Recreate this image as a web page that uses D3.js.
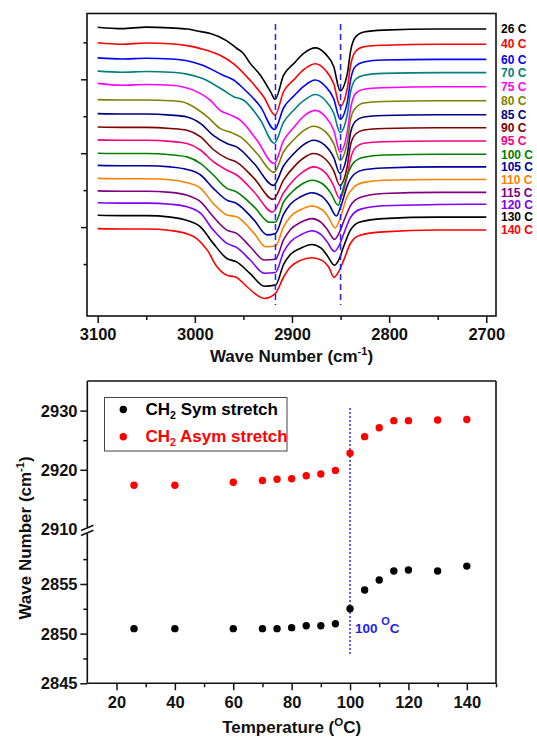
<!DOCTYPE html>
<html>
<head>
<meta charset="utf-8">
<script src="https://cdn.jsdelivr.net/npm/d3@7"></script>
<style>
  html, body { margin: 0; padding: 0; background: #fff; }
  svg { display: block; font-family: "Liberation Sans", Arial, Helvetica, sans-serif; font-weight: bold; }
</style>
</head>
<body>
<svg id="chart" width="537" height="737"></svg>
<script>
// ---------- Data ----------
const temperatures = [26, 40, 60, 70, 75, 80, 85, 90, 95, 100, 105, 110, 115, 120, 130, 140];
const spectrumLabels = ["26 C", "40 C", "60 C", "70 C", "75 C", "80 C", "85 C", "90 C", "95 C",
                        "100 C", "105 C", "110 C", "115 C", "120 C", "130 C", "140 C"];
const spectrumColors = ["#000000", "#ff0000", "#0000ff", "#008080", "#ff00ff", "#808000", "#000080", "#800000",
                        "#ff0080", "#008000", "#0000a0", "#ff8000", "#800080", "#8000ff", "#000000", "#ff0000"];

// vertical offset of each stacked spectrum (a.u.)
const spectrumOffsets = [74.1, 69.9, 65.8, 62.2, 58.9, 54.5, 50.7, 47.1, 43.6, 40.0, 36.7, 33.2, 29.8, 26.6, 23.2, 19.6];

// [wavenumber (cm-1), transmittance relative to offset (a.u.)]
const spectrum26 = [[3100,0],[3075,-0.4],[3050,0],[3025,-0.2],[3008,-0.5],[2994,-1.2],[2984,-1.7],[2967,-3.7],[2957,-5.7],[2950,-7.1],[2943,-9.8],[2932.5,-13.0],[2922,-17.5],[2917.4,-19.5],[2908.6,-13.0],[2898,-9.8],[2888,-7.1],[2876,-5.6],[2866,-7.1],[2857,-10.7],[2850.5,-17.2],[2843,-12.5],[2839.5,-6.2],[2834.4,-2.6],[2826,-1.3],[2806,-0.8],[2750,-0.5],[2700,-0.5]];
const spectrum40 = [[3100,0],[3075,-0.4],[3050,-0.1],[3025,-0.3],[3008,-0.8],[2994,-1.6],[2974,-3.4],[2960,-5.7],[2943,-10.2],[2929,-14.7],[2917.4,-19.6],[2908.6,-13.2],[2898,-10.0],[2888,-7.3],[2876,-5.7],[2866,-7.3],[2857,-11.1],[2850.5,-17.2],[2843,-12.2],[2839.5,-5.9],[2834.4,-2.3],[2826,-1.1],[2806,-0.7],[2750,-0.4],[2700,-0.4]];
const spectrum60 = [[3100,0],[3075,-0.3],[3050,-0.1],[3025,-0.3],[3008,-0.8],[2992,-2.0],[2971,-4.7],[2960,-6.0],[2950,-8.3],[2932.5,-13.2],[2917.9,-19.4],[2908.6,-13.5],[2898,-10.3],[2888,-7.7],[2876,-6.0],[2866,-7.6],[2857,-11.1],[2850.5,-16.6],[2843,-11.9],[2839.5,-5.7],[2834.4,-2.2],[2826,-1.1],[2806,-0.6],[2750,-0.4],[2700,-0.4]];
const spectrum70 = [[3100,0],[3075,-0.3],[3050,-0.1],[3025,-0.3],[3008,-0.8],[2992,-2.0],[2971,-5.1],[2960,-6.9],[2950,-7.8],[2932.5,-13.2],[2918.2,-19.5],[2908.6,-13.8],[2898,-10.5],[2888,-8.0],[2876,-6.3],[2866,-7.8],[2857,-11.4],[2850.5,-16.6],[2843,-11.6],[2839.5,-5.4],[2834.4,-2.2],[2826,-1.1],[2806,-0.6],[2750,-0.4],[2700,-0.4]];
const spectrum75 = [[3100,0],[3075,-0.5],[3050,-0.3],[3025,-0.5],[3001,-1.9],[2984,-4.6],[2974,-7.3],[2963,-8.6],[2953,-10.0],[2936,-15.4],[2918.4,-21.7],[2908.6,-15.4],[2898,-11.9],[2888,-8.9],[2876,-7.3],[2866,-8.9],[2857,-12.7],[2850.5,-18.6],[2843,-13.0],[2839.5,-6.5],[2834.4,-2.7],[2826,-1.6],[2806,-1.2],[2750,-0.9],[2700,-0.9]];
const spectrum80 = [[3100,0],[3075,-0.1],[3050,-0.1],[3025,-0.3],[3013,-0.6],[3001,-2.0],[2987,-4.7],[2974,-7.8],[2961.7,-9.0],[2953,-10.1],[2936,-14.6],[2918.5,-19.7],[2908.6,-14.1],[2898,-10.8],[2888,-8.4],[2878,-7.2],[2866,-8.6],[2857,-11.9],[2850.6,-16.4],[2843,-11.4],[2839.5,-5.1],[2834.4,-2.2],[2826,-0.9],[2806,-0.5],[2750,-0.3],[2700,-0.3]];
const spectrum85 = [[3100,0],[3075,-0.1],[3050,-0.1],[3025,-0.4],[3008,-0.9],[2994,-2.7],[2981,-5.9],[2967,-8.1],[2957,-9.0],[2939,-13.5],[2919.0,-19.4],[2908.6,-14.1],[2898,-10.8],[2888,-8.4],[2878,-7.2],[2866,-8.6],[2857,-11.9],[2850.8,-16.1],[2843,-10.8],[2839.5,-4.9],[2834.4,-2.0],[2826,-0.9],[2806,-0.5],[2750,-0.3],[2700,-0.3]];
const spectrum90 = [[3100,0],[3075,-0.1],[3050,-0.1],[3025,-0.4],[3008,-0.9],[2994,-2.7],[2981,-6.1],[2967,-8.5],[2957,-9.5],[2939,-13.9],[2919.3,-19.6],[2908.6,-14.3],[2898,-10.8],[2888,-8.4],[2878,-7.2],[2866,-8.6],[2857,-11.9],[2850.8,-15.8],[2843,-10.5],[2839.5,-4.6],[2834.4,-1.9],[2826,-0.8],[2806,-0.4],[2750,-0.2],[2700,-0.2]];
const spectrum95 = [[3100,0],[3075,-0.1],[3050,-0.1],[3025,-0.4],[3008,-1.0],[2994,-2.8],[2981,-5.9],[2967,-8.2],[2957,-9.5],[2939,-14.1],[2919.9,-19.5],[2908.6,-14.3],[2898,-10.8],[2888,-8.5],[2878,-7.3],[2866,-8.8],[2858,-11.9],[2851.0,-15.8],[2844,-10.8],[2839.5,-4.9],[2834.4,-2.0],[2826,-0.9],[2806,-0.5],[2750,-0.3],[2700,-0.3]];
const spectrum100 = [[3100,0],[3075,-0.1],[3050,-0.1],[3025,-0.4],[3008,-1.0],[2994,-2.8],[2981,-5.9],[2967,-9.5],[2957,-10.5],[2939,-14.5],[2922.8,-18.7],[2917,-18.6],[2908.6,-13.2],[2900,-10.5],[2890,-8.4],[2879.4,-7.3],[2868,-8.4],[2860,-10.8],[2852.5,-14.1],[2848,-10.3],[2843,-5.9],[2836,-2.4],[2826,-1.1],[2806,-0.5],[2750,-0.3],[2700,-0.3]];
const spectrum105 = [[3100,0],[3075,-0.1],[3050,-0.1],[3025,-0.4],[3008,-1.1],[2994,-2.6],[2981,-6.2],[2967,-9.4],[2957,-10.3],[2939,-14.8],[2925.6,-18.8],[2917,-18.4],[2908.6,-13.2],[2901.7,-10.5],[2891,-8.5],[2879.4,-7.4],[2869,-8.4],[2862,-10.5],[2854.4,-13.7],[2849,-10.5],[2843,-5.4],[2836,-2.4],[2826,-1.2],[2806,-0.7],[2750,-0.4],[2700,-0.4]];
const spectrum110 = [[3100,0],[3075,-0.1],[3050,-0.1],[3025,-0.4],[3008,-1.2],[2994,-2.7],[2981,-6.8],[2967,-9.9],[2957,-10.4],[2939,-14.9],[2927.1,-18.5],[2917,-18.3],[2908.6,-13.1],[2901.7,-10.4],[2891,-8.5],[2879.4,-7.5],[2869,-8.5],[2863,-10.3],[2855.4,-13.4],[2850,-10.5],[2844,-5.4],[2836,-2.3],[2826,-1.1],[2806,-0.5],[2750,-0.3],[2700,-0.3]];
const spectrum115 = [[3100,0],[3075,-0.1],[3050,-0.1],[3025,-0.4],[3008,-1.2],[2994,-3.0],[2981,-7.0],[2967,-10.6],[2957,-11.5],[2943,-15.1],[2928.3,-18.7],[2917,-18.5],[2908.6,-13.2],[2901.7,-10.5],[2891,-8.5],[2879.4,-7.5],[2870,-8.5],[2864,-10.3],[2856.3,-13.1],[2851,-11.1],[2847,-8.4],[2840,-4.1],[2830,-1.8],[2806,-0.7],[2750,-0.4],[2700,-0.4]];
const spectrum120 = [[3100,0],[3075,-0.1],[3050,-0.1],[3025,-0.4],[3008,-1.1],[2994,-2.9],[2981,-7.4],[2967,-11.0],[2957,-12.1],[2943,-15.5],[2928.3,-19.1],[2917,-18.9],[2908.6,-13.3],[2901.7,-10.6],[2891,-8.7],[2879.4,-7.6],[2870,-8.6],[2864,-10.5],[2856.4,-13.2],[2851,-11.3],[2847,-8.6],[2840,-4.1],[2830,-1.8],[2806,-0.8],[2750,-0.5],[2700,-0.4]];
const spectrum130 = [[3100,0],[3075,-0.1],[3050,-0.1],[3025,-0.5],[3008,-1.4],[2994,-3.2],[2981,-7.6],[2967,-11.7],[2957,-12.6],[2943,-15.8],[2928.4,-19.2],[2917,-18.9],[2908.6,-13.3],[2901.7,-10.6],[2891,-8.9],[2879.4,-7.9],[2870,-8.9],[2864,-10.8],[2856.3,-13.5],[2851,-11.6],[2847,-8.6],[2840,-4.1],[2830,-1.8],[2806,-0.9],[2750,-0.5],[2700,-0.5]];
const spectrum140 = [[3100,0],[3075,-0.1],[3050,-0.1],[3025,-0.5],[3008,-1.4],[2998,-2.7],[2987,-5.9],[2977,-10.4],[2967,-12.6],[2958,-13.1],[2946,-15.8],[2936,-18.0],[2928.5,-18.9],[2917.2,-17.6],[2908.6,-13.1],[2901.7,-10.4],[2891.4,-8.6],[2879.4,-7.9],[2869,-8.6],[2862.2,-10.4],[2856.8,-13.2],[2852,-11.7],[2846.8,-8.6],[2840,-4.1],[2830,-1.8],[2806,-0.9],[2750,-0.4],[2700,-0.4]];
const spectra = [spectrum26, spectrum40, spectrum60, spectrum70, spectrum75, spectrum80, spectrum85, spectrum90,
                 spectrum95, spectrum100, spectrum105, spectrum110, spectrum115, spectrum120, spectrum130, spectrum140];

// reference band positions marked by dashed lines (cm-1)
const bandMarkers = [2917, 2850];

const waveTicks = [3100, 3000, 2900, 2800, 2700];
const waveMinorTicks = [3050, 2950, 2850, 2750];

// peak positions vs temperature
const symStretch  = [2850.5, 2850.5, 2850.5, 2850.5, 2850.5, 2850.6, 2850.8, 2850.8, 2851.0, 2852.5, 2854.4, 2855.4, 2856.3, 2856.4, 2856.3, 2856.8];
const asymStretch = [2917.4, 2917.4, 2917.9, 2918.2, 2918.4, 2918.5, 2919.0, 2919.3, 2919.9, 2922.8, 2925.6, 2927.1, 2928.3, 2928.3, 2928.4, 2928.5];
const transitionTemp = 100;

const tempTicks = [20, 40, 60, 80, 100, 120, 140];
const tempMinorTicks = [30, 50, 70, 90, 110, 130, 150];
const upperTicks = [2920, 2930];
const upperMinorTicks = [2915, 2925];
const lowerTicks = [2845, 2850, 2855];
const lowerMinorTicks = [2847.5, 2852.5, 2857.5];
const yTickLabels = [2930, 2920, 2910, 2855, 2850, 2845];

// ---------- Drawing ----------
const svg = d3.select("#chart");
const tickFont = "16.5px";
const titleFont = "17px";

// ===== Top panel: stacked spectra =====
const P1 = { left: 87, right: 496, top: 13.5, bottom: 316 };
const x1 = d3.scaleLinear().domain([3111, 2690]).range([P1.left, P1.right]);
const y1 = d3.scaleLinear().domain([-4.05, 77.8]).range([P1.bottom, P1.top]);

const g1 = svg.append("g");

const line = (offset) => d3.line()
  .x(d => x1(d[0]))
  .y(d => y1(offset + d[1]))
  .curve(d3.curveMonotoneX);

g1.selectAll("path.spec").data(spectra).join("path")
  .attr("class", "spec")
  .attr("fill", "none")
  .attr("stroke", (d, i) => spectrumColors[i])
  .attr("stroke-width", 1.6)
  .attr("d", (d, i) => line(spectrumOffsets[i])(d));

// dashed band reference lines over the traces
g1.selectAll("line.marker").data(bandMarkers).join("line")
  .attr("class", "marker")
  .attr("x1", d => x1(d)).attr("x2", d => x1(d))
  .attr("y1", 24).attr("y2", 305)
  .attr("stroke", "#1f1fff").attr("stroke-width", 1.5)
  .attr("stroke-dasharray", "6,4");

// temperature labels at the right end of each trace
g1.selectAll("text.lab").data(spectra).join("text")
  .attr("class", "lab")
  .attr("x", 501)
  .attr("y", (d, i) => y1(spectrumOffsets[i] + d[d.length - 1][1]))
  .attr("dy", "0.36em")
  .attr("font-size", "12px")
  .attr("fill", (d, i) => spectrumColors[i])
  .text((d, i) => spectrumLabels[i]);

// frame
g1.append("rect")
  .attr("x", P1.left).attr("y", P1.top)
  .attr("width", P1.right - P1.left).attr("height", P1.bottom - P1.top)
  .attr("fill", "none").attr("stroke", "#111").attr("stroke-width", 1.6);

// x axis
const xAx1 = g1.append("g").attr("transform", `translate(0,${P1.bottom})`)
  .call(d3.axisBottom(x1).tickValues(waveTicks).tickSize(7).tickPadding(5).tickFormat(d3.format("d")));
const xAx1m = g1.append("g").attr("transform", `translate(0,${P1.bottom})`)
  .call(d3.axisBottom(x1).tickValues(waveMinorTicks).tickSize(4).tickFormat(""));
// y axis (no labels)
const yAx1 = g1.append("g").attr("transform", `translate(${P1.left},0)`)
  .call(d3.axisLeft(y1).tickValues([20, 40, 60]).tickSize(6).tickFormat(""));
const yAx1m = g1.append("g").attr("transform", `translate(${P1.left},0)`)
  .call(d3.axisLeft(y1).tickValues([10, 30, 50, 70]).tickSize(3.5).tickFormat(""));

[xAx1, xAx1m, yAx1, yAx1m].forEach(a => {
  a.select(".domain").remove();
  a.selectAll("line").attr("stroke", "#111").attr("stroke-width", 1.5);
  a.selectAll("text").attr("fill", "#111").style("font-size", tickFont).style("font-family", "inherit").style("font-weight", "bold");
});

// x title
const t1 = g1.append("text")
  .attr("x", (P1.left + P1.right) / 2).attr("y", 362)
  .attr("text-anchor", "middle").attr("font-size", titleFont).attr("fill", "#111");
t1.append("tspan").text("Wave Number (cm");
t1.append("tspan").attr("font-size", "11px").attr("dy", "-7").text("-1");
t1.append("tspan").attr("dy", "7").text(")");

// ===== Bottom panel: peak position vs temperature (broken axis) =====
const P2 = { left: 87.3, right: 496, top: 381, bottom: 683.3 };
const x2 = d3.scaleLinear().domain([10, 150]).range([P2.left, P2.right]);
const yUp = d3.scaleLinear().domain([2910, 2935]).range([529, P2.top]);
const yLo = d3.scaleLinear().domain([2845, 2860]).range([P2.bottom, 534.3]);
const yAny = v => (v >= 2900 ? yUp(v) : yLo(v));

const g2 = svg.append("g");

// frame: top, right, bottom, and left split at the break
const seg = (xa, ya, xb, yb) => g2.append("line")
  .attr("x1", xa).attr("y1", ya).attr("x2", xb).attr("y2", yb)
  .attr("stroke", "#111").attr("stroke-width", 1.6);
seg(P2.left, P2.top, P2.right, P2.top);
seg(P2.right, P2.top, P2.right, P2.bottom);
seg(P2.left, P2.bottom, P2.right, P2.bottom);
seg(P2.left, P2.top, P2.left, 527);
seg(P2.left, 533.5, P2.left, P2.bottom);
// break marks
seg(81, 530.5, 93.5, 525.2);
seg(81, 535.6, 93.5, 530.3);

// transition marker
g2.append("line")
  .attr("x1", x2(transitionTemp)).attr("x2", x2(transitionTemp))
  .attr("y1", 408).attr("y2", 654)
  .attr("stroke", "#2b2bf0").attr("stroke-width", 1.5)
  .attr("stroke-dasharray", "2,2");

const ann = g2.append("text")
  .attr("x", 355).attr("y", 633)
  .attr("font-size", "13.5px").attr("fill", "#2222ee");
ann.append("tspan").text("100 ");
ann.append("tspan").attr("font-size", "11px").attr("dy", "-8").text("O");
ann.append("tspan").attr("dy", "8").text("C");

// x axis
const xAx2 = g2.append("g").attr("transform", `translate(0,${P2.bottom})`)
  .call(d3.axisBottom(x2).tickValues(tempTicks).tickSize(7).tickPadding(6).tickFormat(d3.format("d")));
const xAx2m = g2.append("g").attr("transform", `translate(0,${P2.bottom})`)
  .call(d3.axisBottom(x2).tickValues(tempMinorTicks).tickSize(4).tickFormat(""));
// y axis ticks for both segments
const yAxU = g2.append("g").attr("transform", `translate(${P2.left},0)`)
  .call(d3.axisLeft(yUp).tickValues(upperTicks).tickSize(7).tickFormat(""));
const yAxUm = g2.append("g").attr("transform", `translate(${P2.left},0)`)
  .call(d3.axisLeft(yUp).tickValues(upperMinorTicks).tickSize(4).tickFormat(""));
const yAxL = g2.append("g").attr("transform", `translate(${P2.left},0)`)
  .call(d3.axisLeft(yLo).tickValues(lowerTicks).tickSize(7).tickFormat(""));
const yAxLm = g2.append("g").attr("transform", `translate(${P2.left},0)`)
  .call(d3.axisLeft(yLo).tickValues(lowerMinorTicks).tickSize(4).tickFormat(""));

[xAx2, xAx2m, yAxU, yAxUm, yAxL, yAxLm].forEach(a => {
  a.select(".domain").remove();
  a.selectAll("line").attr("stroke", "#111").attr("stroke-width", 1.5);
  a.selectAll("text").attr("fill", "#111").style("font-size", tickFont).style("font-family", "inherit").style("font-weight", "bold");
});

// y tick labels
g2.selectAll("text.ylab").data(yTickLabels).join("text")
  .attr("class", "ylab")
  .attr("x", 77.5).attr("y", d => yAny(d))
  .attr("dy", "0.36em").attr("text-anchor", "end")
  .attr("font-size", tickFont).attr("fill", "#111")
  .text(d => d);

// data points
g2.selectAll("circle.sym").data(temperatures).join("circle")
  .attr("class", "sym")
  .attr("cx", d => x2(d)).attr("cy", (d, i) => yLo(symStretch[i]))
  .attr("r", 3.7).attr("fill", "#000");
g2.selectAll("circle.asym").data(temperatures).join("circle")
  .attr("class", "asym")
  .attr("cx", d => x2(d)).attr("cy", (d, i) => yUp(asymStretch[i]))
  .attr("r", 3.7).attr("fill", "#ff0000");

// legend
g2.append("rect")
  .attr("x", 104.5).attr("y", 397.5).attr("width", 182.5).attr("height", 53.5)
  .attr("fill", "#fff").attr("stroke", "#444").attr("stroke-width", 1);
const legendItems = [
  { name: "Sym stretch", color: "#000" },
  { name: "Asym stretch", color: "#ff0000" }
];
legendItems.forEach((it, i) => {
  const cy = 409.5 + i * 27.3;
  g2.append("circle").attr("cx", 123.3).attr("cy", cy).attr("r", 3.7).attr("fill", it.color);
  const tx = g2.append("text").attr("x", 145.5).attr("y", cy + 5.5)
    .attr("font-size", titleFont).attr("fill", it.color);
  tx.append("tspan").text("CH");
  tx.append("tspan").attr("font-size", "10.5px").attr("dy", "4").text("2");
  tx.append("tspan").attr("dy", "-4").text(" " + it.name);
});

// axis titles
const t2 = g2.append("text")
  .attr("x", (P2.left + P2.right) / 2).attr("y", 733)
  .attr("text-anchor", "middle").attr("font-size", titleFont).attr("fill", "#111");
t2.append("tspan").text("Temperature (");
t2.append("tspan").attr("font-size", "11.5px").attr("dy", "-7").text("O");
t2.append("tspan").attr("dy", "7").text("C)");

const t3 = g2.append("text")
  .attr("transform", "translate(31,538) rotate(-90)")
  .attr("text-anchor", "middle").attr("font-size", titleFont).attr("fill", "#111");
t3.append("tspan").text("Wave Number (cm");
t3.append("tspan").attr("font-size", "11px").attr("dy", "-7").text("-1");
t3.append("tspan").attr("dy", "7").text(")");
</script>
</body>
</html>
